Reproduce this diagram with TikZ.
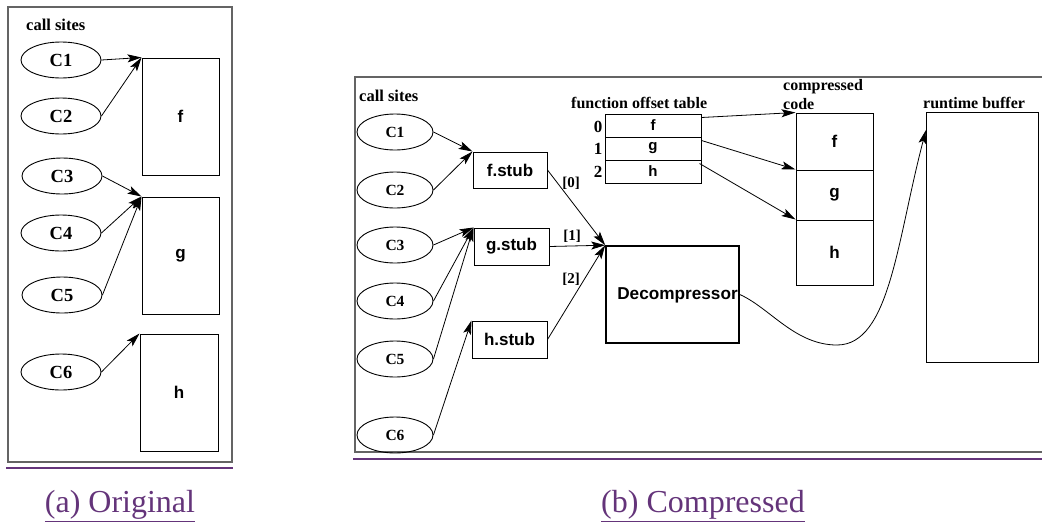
\documentclass[tikz,border=0pt]{standalone}
\usepackage{fontspec}
\setmainfont{Liberation Serif}
\newfontfamily\sansf{Liberation Sans}
\usetikzlibrary{arrows.meta,shapes.geometric,calc}
\definecolor{capcol}{RGB}{100,52,122}
\definecolor{framecol}{RGB}{100,100,100}
\tikzset{
  arr/.style={line width=0.8pt,-{Stealth[length=14pt,width=8pt,inset=3pt]}},
  site/.style={ellipse,draw,line width=0.9pt,inner sep=0pt},
  sitea/.style={site,minimum width=80,minimum height=36,font=\bfseries\fontsize{18.5}{20}\selectfont},
  siteb/.style={site,minimum width=76,minimum height=36,font=\bfseries\fontsize{15.5}{18}\selectfont},
  fbox/.style={draw,line width=1pt,inner sep=0pt,font=\sansf\bfseries\fontsize{17}{19}\selectfont},
  lab/.style={inner sep=0pt,font=\bfseries\fontsize{16}{18}\selectfont},
  captext/.style={inner sep=0pt,text=capcol,font=\fontsize{32}{36}\selectfont},
}
\begin{document}
\begin{tikzpicture}[x=1pt,y=-1pt]
\useasboundingbox (0,0) rectangle (1042,523);
% ---------- (a) Original ----------
\draw[framecol,line width=1.3pt] (8,7) rectangle (232,462);
\draw[capcol,line width=2pt] (6,468) -- (233,468);
\node[captext] (capa) at (120,506) {\underline{(a) Original}};
\node[lab,anchor=west,font=\bfseries\fontsize{16.5}{18}\selectfont] (csa) at (26,25) {call sites};
\node[sitea] (a1) at (61,60) {C1};
\node[sitea] (a2) at (61,116) {C2};
\node[sitea] (a3) at (62,176) {C3};
\node[sitea] (a4) at (61,233) {C4};
\node[sitea] (a5) at (62,295) {C5};
\node[sitea] (a6) at (61,372) {C6};
\node[fbox,minimum width=77,minimum height=117] (fa) at (180.5,116.5) {f};
\node[fbox,minimum width=77,minimum height=117] (ga) at (180.5,255.5) {g};
\node[fbox,minimum width=78,minimum height=117] (ha) at (179,392.5) {h};
\draw[arr] (a1.east) -- (fa.north west);
\draw[arr] (a2.east) -- (fa.north west);
\draw[arr] (a3.east) -- (ga.north west);
\draw[arr] (a4.east) -- (ga.north west);
\draw[arr] (a5.east) -- (ga.north west);
\draw[arr] (a6.east) -- (ha.north west);
% ---------- (b) Compressed ----------
\draw[framecol,line width=1.3pt] (1042,77) -- (355,77) -- (355,452) -- (1042,452);
\draw[capcol,line width=2pt] (353,459) -- (1042,459);
\node[captext] (capb) at (703,506) {\underline{(b) Compressed}};
\node[lab,anchor=west,font=\bfseries\fontsize{16.5}{18}\selectfont] (csb) at (359,96) {call sites};
\node[siteb] (b1) at (395,132) {C1};
\node[siteb] (b2) at (395,190) {C2};
\node[siteb] (b3) at (395,245) {C3};
\node[siteb] (b4) at (395,301) {C4};
\node[siteb] (b5) at (395,359) {C5};
\node[siteb] (b6) at (395,435) {C6};
\node[fbox,minimum width=74,minimum height=36] (fs) at (510,170) {f.stub};
\node[fbox,minimum width=75,minimum height=37] (gs) at (511.5,246.5) {g.stub};
\node[fbox,minimum width=75,minimum height=37] (hs) at (509.5,339.5) {h.stub};
\node[draw,line width=1.6pt,minimum width=133,minimum height=97,inner sep=0pt] (dec) at (672.5,294.5) {};
\node[inner sep=0pt,font=\sansf\bfseries\fontsize{17.2}{19}\selectfont] (dect) at (677.5,295) {Decompressor};
\draw[arr] (b1.east) -- (fs.north west);
\draw[arr] (b2.east) -- (fs.north west);
\draw[arr] (b3.east) -- (gs.north west);
\draw[arr] (b4.east) -- (gs.north west);
\draw[arr] (b5.east) -- (gs.north west);
\draw[arr] (b6.east) -- (hs.north west);
\draw[arr] (fs.east) -- (dec.north west);
\draw[arr] (gs.east) -- (dec.north west);
\draw[arr] (hs.east) -- (dec.north west);
\node[lab,font=\bfseries\fontsize{15}{17}\selectfont] (l0) at (571,183) {[0]};
\node[lab,font=\bfseries\fontsize{15}{17}\selectfont] (l1) at (572,236) {[1]};
\node[lab,font=\bfseries\fontsize{15}{17}\selectfont] (l2) at (571,279) {[2]};
% function offset table
\node[lab,anchor=west] (fot) at (571,103) {function offset table};
\node[fbox,minimum width=96,minimum height=23,font=\sansf\bfseries\fontsize{15}{17}\selectfont] (tf) at (653,125.5) {f};
\node[fbox,minimum width=96,minimum height=23,font=\sansf\bfseries\fontsize{15}{17}\selectfont] (tg) at (653,148.5) {g};
\node[fbox,minimum width=96,minimum height=23,font=\sansf\bfseries\fontsize{15}{17}\selectfont] (th) at (653,171.5) {h};
\node[lab,font=\bfseries\fontsize{17}{18}\selectfont] (i0) at (598,127) {0};
\node[lab,font=\bfseries\fontsize{17}{18}\selectfont] (i1) at (598,149) {1};
\node[lab,font=\bfseries\fontsize{17}{18}\selectfont] (i2) at (598,172) {2};
% compressed code
\node[lab,anchor=west,align=left] (cct) at (783,94.5) {compressed\\[1pt]code};
\node[fbox,minimum width=77,minimum height=57] (cf) at (834.5,141.5) {f};
\node[fbox,minimum width=77,minimum height=50] (cg) at (834.5,195) {g};
\node[fbox,minimum width=77,minimum height=65] (ch) at (834.5,252.5) {h};
\draw[arr] ($(tf.north east)+(0,4)$) -- (cf.north west);
\draw[arr] ($(tg.north east)+(0,4)$) -- (cg.north west);
\draw[arr] ($(th.north east)+(-2,4)$) -- (ch.north west);
% runtime buffer
\node[lab,anchor=west] (rbt) at (923,103) {runtime buffer};
\node[draw,line width=1pt,minimum width=112,minimum height=250,inner sep=0pt] (rb) at (982,237) {};
\coordinate (rbin) at (926,130);
\coordinate (low) at (837,345);
\draw[line width=0.8pt] (dec.east) .. controls (770,308) and (795,345) .. (low);
\draw[arr] (low) .. controls (890,345) and (897,240) .. (rbin);
\end{tikzpicture}
\end{document}
